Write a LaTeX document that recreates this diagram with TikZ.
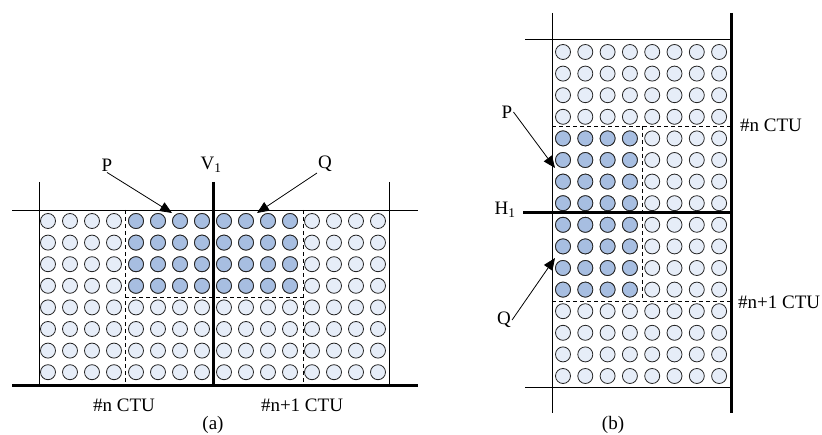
\documentclass[tikz,border=0pt]{standalone}
\usepackage{fontspec}
\setmainfont{Liberation Serif}
\usepackage{xcolor}
\usepackage{tikz}
\usetikzlibrary{arrows.meta, positioning, calc}
\definecolor{pixfill}{HTML}{E6EDF8}
\definecolor{selfill}{HTML}{A7BEE1}
\tikzstyle{gridline} = [line width=0.9pt]
\tikzstyle{edgeline} = [line width=3pt]
\tikzstyle{ctuline} = [line width=0.9pt, dash pattern=on 4pt off 3pt]
\tikzstyle{pix} = [draw=black!85, line width=0.8pt, fill=pixfill]
\tikzstyle{selpix} = [pix, fill=selfill]
\tikzstyle{arrow} = [line width=0.8pt, -{Triangle[length=12pt,width=10pt]}]
\tikzstyle{txt} = [inner sep=1pt, font=\fontsize{19}{22}\selectfont]

\begin{document}
\begin{tikzpicture}[x=1pt, y=-1pt]
\useasboundingbox (0,0) rectangle (822,435);

% Panel (a): vertical CTU boundary
\foreach \i in {0,...,15}
  \foreach \j in {0,...,7}
    \draw[pix] (48+22*\i, 221+21.6*\j) circle (7.5pt);
\foreach \i in {4,...,11}
  \foreach \j in {0,...,3}
    \draw[selpix] (48+22*\i, 221+21.6*\j) circle (7.5pt);

\draw[gridline] (12,210) -- (418,210);
\draw[edgeline] (12,386) -- (418,386);
\draw[gridline] (39,182) -- (39,386);
\draw[gridline] (389,182) -- (389,386);
\draw[edgeline] (213,182) -- (213,386);
\draw[ctuline] (125,210) -- (125,386);
\draw[ctuline] (303,210) -- (303,386);
\draw[ctuline] (125,297) -- (303,297);

\node[txt] (Pa) at (107,165) {P};
\node[txt] (V1) at (211,165) {V\textsubscript{1}};
\node[txt] (Qa) at (325,164) {Q};
\coordinate (Pa tip) at (172,213);
\coordinate (Qa tip) at (257,213);
\draw[arrow] (Pa.south) -- (Pa tip);
\draw[arrow] (Qa.south west) -- (Qa tip);

\node[txt] (ctuna) at (124,405) {\#n CTU};
\node[txt] (ctuma) at (302,405) {\#n+1 CTU};
\node[txt] (capa) at (213,425) {(a)};

% Panel (b): horizontal CTU boundary
\foreach \i in {0,...,7}
  \foreach \j in {0,...,15}
    \draw[pix] (563+22.3*\i, 52+21.6*\j) circle (7.5pt);
\foreach \i in {0,...,3}
  \foreach \j in {4,...,11}
    \draw[selpix] (563+22.3*\i, 52+21.6*\j) circle (7.5pt);

\draw[gridline] (525,39) -- (731,39);
\draw[edgeline] (523,213) -- (731,213);
\draw[gridline] (525,387) -- (731,387);
\draw[gridline] (552,13) -- (552,413);
\draw[edgeline] (731,13) -- (731,413);
\draw[ctuline] (552,126) -- (731,126);
\draw[ctuline] (552,301) -- (731,301);
\draw[ctuline] (642,126) -- (642,301);

\node[txt] (Pb) at (507,112) {P};
\node[txt] (H1) at (505,210) {H\textsubscript{1}};
\node[txt] (Qb) at (504,320) {Q};
\coordinate (Pb tip) at (555,168);
\coordinate (Qb tip) at (555,258);
\draw[arrow] (Pb.east) -- (Pb tip);
\draw[arrow] (Qb.east) -- (Qb tip);

\node[txt, anchor=west] (ctunb) at (739,125) {\#n CTU};
\node[txt, anchor=west] (ctumb) at (737,302) {\#n+1 CTU};
\node[txt] (capb) at (613,425) {(b)};

\end{tikzpicture}
\end{document}
